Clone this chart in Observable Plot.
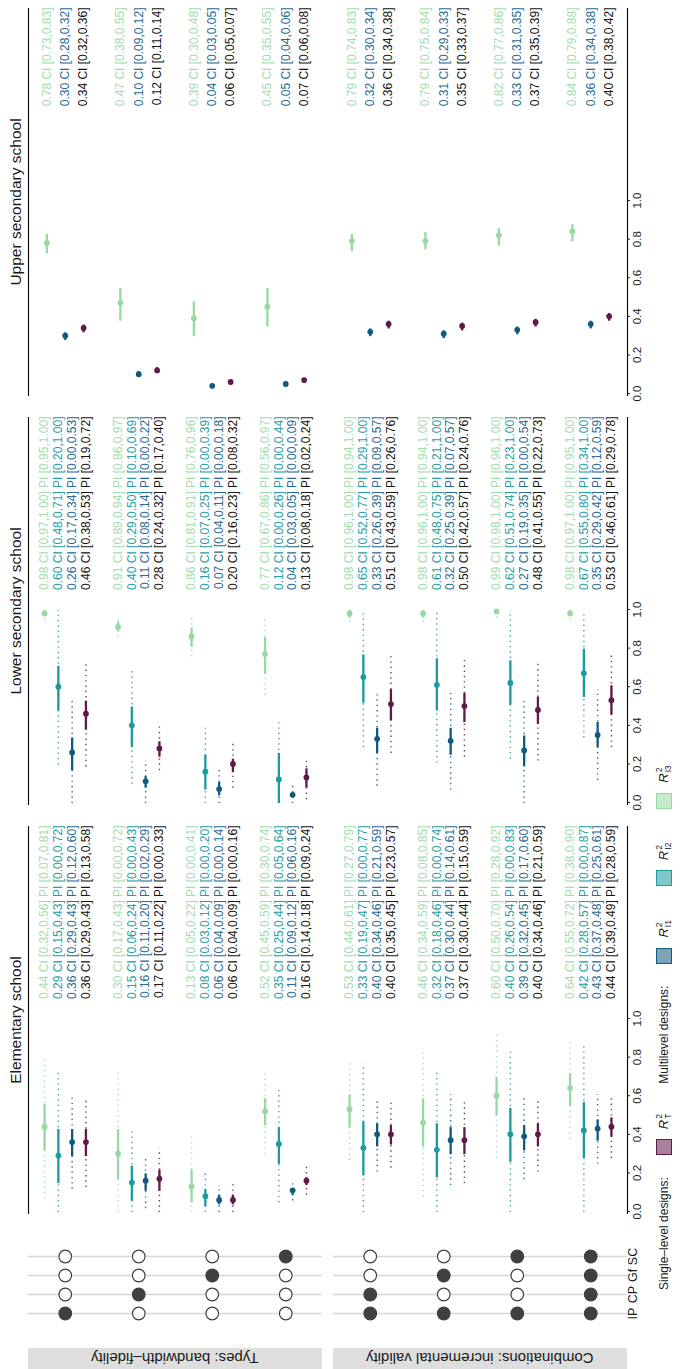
<!DOCTYPE html>
<html><head><meta charset="utf-8">
<script src="https://cdn.jsdelivr.net/npm/d3@7"></script>
<script src="https://cdn.jsdelivr.net/npm/@observablehq/plot@0.6"></script>
<style>
html,body{margin:0;padding:0;background:#fff;}
#page{position:relative;width:682px;height:1369px;overflow:hidden;background:#fff;font-family:"Liberation Sans",Arial,sans-serif;}
#land{position:absolute;left:0;top:0;width:1369px;height:682px;transform-origin:0 0;transform:translate(0px,1369px) rotate(-90deg);}
.abs{position:absolute;}
.abs svg{display:block;overflow:visible;}
.strip{background:#dedede;display:flex;align-items:center;justify-content:center;}
.strip span{writing-mode:vertical-rl;transform:rotate(180deg);font-size:15px;color:#1a1a1a;white-space:nowrap;}
.title{font-size:15.5px;color:#1a1a1a;text-align:center;white-space:nowrap;line-height:15px;}
#legend{display:flex;align-items:center;font-size:12px;color:#1a1a1a;white-space:nowrap;}
.key{width:16px;height:16px;box-sizing:border-box;border:1px solid;}
.rlab{display:inline-flex;align-items:center;}
.rlab i{font-size:13px;}
.ss{display:inline-flex;flex-direction:column;font-size:8.5px;line-height:8.5px;margin-left:1px;}
</style>
</head><body>
<div id="page"><div id="land"></div></div>
<script>
// ---------- categories ----------
const schools = ["Elementary school", "Lower secondary school", "Upper secondary school"];
const facets = ["Types: bandwidth\u2013fidelity", "Combinations: incremental validity"];
const predictors = ["IP", "CP", "Gf", "SC"];
// which predictors enter each of the 8 models (rows)
const membership = [
  [1,0,0,0],[0,1,0,0],[0,0,1,0],[0,0,0,1],
  [1,1,0,0],[1,0,1,0],[1,0,0,1],[1,1,1,1]
];
const seriesNames = ["I3", "I2", "I1", "T"];
const seriesColors = ["#97d8a3", "#1b9a9f", "#0f5a7e", "#5e1b47"];
const textColors = ["#a3ddad", "#27a0a5", "#2b6b93", "#141414"];
const tickValues = [0, 0.2, 0.4, 0.6, 0.8, 1.0];

// ---------- Elementary school ----------
const elemI3 = {est:[0.44,0.30,0.13,0.52,0.53,0.46,0.60,0.64], ciLo:[0.32,0.17,0.05,0.45,0.44,0.34,0.50,0.55], ciHi:[0.56,0.43,0.22,0.59,0.61,0.59,0.70,0.72], piLo:[0.07,0.00,0.00,0.30,0.27,0.08,0.28,0.38], piHi:[0.81,0.72,0.41,0.74,0.79,0.85,0.92,0.90]};
const elemI2 = {est:[0.29,0.15,0.08,0.35,0.33,0.32,0.40,0.42], ciLo:[0.15,0.06,0.03,0.25,0.19,0.18,0.26,0.28], ciHi:[0.43,0.24,0.12,0.44,0.47,0.46,0.54,0.57], piLo:[0.00,0.00,0.00,0.05,0.00,0.00,0.00,0.00], piHi:[0.72,0.43,0.20,0.64,0.77,0.74,0.83,0.87]};
const elemI1 = {est:[0.36,0.16,0.06,0.11,0.40,0.37,0.39,0.43], ciLo:[0.29,0.11,0.04,0.09,0.34,0.30,0.32,0.37], ciHi:[0.43,0.20,0.09,0.12,0.46,0.44,0.45,0.48], piLo:[0.12,0.02,0.00,0.06,0.21,0.14,0.17,0.25], piHi:[0.60,0.29,0.14,0.16,0.59,0.61,0.60,0.61]};
const elemT  = {est:[0.36,0.17,0.06,0.16,0.40,0.37,0.40,0.44], ciLo:[0.29,0.11,0.04,0.14,0.35,0.30,0.34,0.39], ciHi:[0.43,0.22,0.09,0.18,0.45,0.44,0.46,0.49], piLo:[0.13,0.00,0.00,0.09,0.23,0.15,0.21,0.28], piHi:[0.58,0.33,0.16,0.24,0.57,0.59,0.59,0.59]};
// ---------- Lower secondary school ----------
const lowI3 = {est:[0.98,0.91,0.86,0.77,0.98,0.98,0.99,0.98], ciLo:[0.97,0.89,0.81,0.67,0.96,0.96,0.98,0.97], ciHi:[1.00,0.94,0.91,0.86,1.00,1.00,1.00,1.00], piLo:[0.95,0.86,0.76,0.56,0.94,0.94,0.96,0.95], piHi:[1.00,0.97,0.96,0.97,1.00,1.00,1.00,1.00]};
const lowI2 = {est:[0.60,0.40,0.16,0.12,0.65,0.61,0.62,0.67], ciLo:[0.48,0.29,0.07,0.00,0.52,0.48,0.51,0.55], ciHi:[0.71,0.50,0.25,0.26,0.77,0.75,0.74,0.80], piLo:[0.20,0.10,0.00,0.00,0.29,0.21,0.23,0.34], piHi:[1.00,0.69,0.39,0.44,1.00,1.00,1.00,1.00]};
const lowI1 = {est:[0.26,0.11,0.07,0.04,0.33,0.32,0.27,0.35], ciLo:[0.17,0.08,0.04,0.03,0.26,0.25,0.19,0.29], ciHi:[0.34,0.14,0.11,0.05,0.39,0.39,0.35,0.42], piLo:[0.00,0.00,0.00,0.00,0.09,0.07,0.00,0.12], piHi:[0.53,0.22,0.18,0.09,0.57,0.57,0.54,0.59]};
const lowT  = {est:[0.46,0.28,0.20,0.13,0.51,0.50,0.48,0.53], ciLo:[0.38,0.24,0.16,0.08,0.43,0.42,0.41,0.46], ciHi:[0.53,0.32,0.23,0.18,0.59,0.57,0.55,0.61], piLo:[0.19,0.17,0.08,0.02,0.26,0.24,0.22,0.29], piHi:[0.72,0.40,0.32,0.24,0.76,0.76,0.73,0.78]};
// ---------- Upper secondary school (no prediction intervals) ----------
const uppI3 = {est:[0.78,0.47,0.39,0.45,0.79,0.79,0.82,0.84], ciLo:[0.73,0.38,0.30,0.35,0.74,0.75,0.77,0.79], ciHi:[0.83,0.55,0.48,0.55,0.83,0.84,0.86,0.88]};
const uppI1 = {est:[0.30,0.10,0.04,0.05,0.32,0.31,0.33,0.36], ciLo:[0.28,0.09,0.03,0.04,0.30,0.29,0.31,0.34], ciHi:[0.32,0.12,0.05,0.06,0.34,0.33,0.35,0.38]};
const uppT  = {est:[0.34,0.12,0.06,0.07,0.36,0.35,0.37,0.40], ciLo:[0.32,0.11,0.05,0.06,0.34,0.33,0.35,0.38], ciHi:[0.36,0.14,0.07,0.08,0.38,0.37,0.39,0.42]};

const panelSeries = [
  [["I3", elemI3], ["I2", elemI2], ["I1", elemI1], ["T", elemT]],
  [["I3", lowI3], ["I2", lowI2], ["I1", lowI1], ["T", lowT]],
  [["I3", uppI3], ["I1", uppI1], ["T", uppT]]
];

// ---------- layout (landscape, then rotated) ----------
const land = document.getElementById("land");
const panelLeft = [155, 564, 973];
const panelW = 388;
const FONT = '"Liberation Sans", Arial, sans-serif';
const fmt = d3.format(".2f");
const fyScale = {domain: facets, paddingInner: 0.0367, paddingOuter: 0, axis: null};

function place(el, left, top) {
  const d = document.createElement("div");
  d.className = "abs";
  d.style.left = left + "px"; d.style.top = top + "px";
  d.appendChild(el);
  land.appendChild(d);
  return d;
}

function buildRows(list) {
  const n = list.length, rows = [];
  list.forEach(([name, s], i) => {
    s.est.forEach((v, g) => {
      const hasPI = s.piLo !== undefined;
      rows.push({
        series: name, facet: facets[g < 4 ? 0 : 1],
        ypos: (g % 4) + (i - (n - 1) / 2) * 0.75 / n,
        est: v, ciLo: s.ciLo[g], ciHi: s.ciHi[g],
        piLo: hasPI ? s.piLo[g] : null, piHi: hasPI ? s.piHi[g] : null,
        label: fmt(v) + " CI [" + fmt(s.ciLo[g]) + "," + fmt(s.ciHi[g]) + "]" +
               (hasPI ? " PI [" + fmt(s.piLo[g]) + "," + fmt(s.piHi[g]) + "]" : "")
      });
    });
  });
  return rows;
}

panelSeries.forEach((list, p) => {
  const rows = buildRows(list);
  const hasPI = rows[0].piLo !== null;
  const marks = [
    Plot.ruleY([{facet: facets[0], y: -0.5}], {fy: "facet", y: "y", stroke: "#000", strokeWidth: 1.1}),
    Plot.ruleY([{facet: facets[1], y: 3.5}], {fy: "facet", y: "y", stroke: "#000", strokeWidth: 1.1})
  ];
  if (hasPI) marks.push(Plot.ruleY(rows, {fy: "facet", y: "ypos", x1: "piLo", x2: "piHi", stroke: "series",
    strokeWidth: 1.4, strokeDasharray: "1.4,3.9", strokeOpacity: 0.85}));
  marks.push(Plot.ruleY(rows, {fy: "facet", y: "ypos", x1: "ciLo", x2: "ciHi", stroke: "series", strokeWidth: 2.3}));
  marks.push(Plot.dot(rows, {fy: "facet", y: "ypos", x: "est", fill: "series", r: 2.9}));
  list.forEach(([name]) => {
    const k = seriesNames.indexOf(name);
    marks.push(Plot.text(rows, {filter: d => d.series === name, fy: "facet", y: "ypos", x: 2, text: "label",
      textAnchor: "end", fill: textColors[k], fontSize: 12}));
  });
  marks.push(Plot.axisX({ticks: tickValues, tickFormat: d3.format(".1f"), tickSize: 3, tickPadding: 2, label: null}));
  const chart = Plot.plot({
    width: panelW, height: 650, marginTop: 28, marginBottom: 23, marginLeft: 0, marginRight: 0,
    x: {domain: [-0.01, 2], label: null},
    y: {domain: [3.5, -0.5], axis: null},
    fy: fyScale,
    color: {domain: seriesNames, range: seriesColors},
    style: {fontFamily: FONT, fontSize: "11.5px", color: "#1a1a1a", background: "transparent", overflow: "visible"},
    marks
  });
  place(chart, panelLeft[p], 0);
  // column title
  const t = document.createElement("div");
  t.className = "title"; t.style.width = panelW + "px"; t.textContent = schools[p];
  place(t, panelLeft[p], 8);
});

// ---------- predictor matrix ----------
const cells = [];
membership.forEach((m, g) => m.forEach((on, j) => cells.push({pred: predictors[j], g: g % 4, facet: facets[g < 4 ? 0 : 1], on})));
const matrix = Plot.plot({
  width: 105, height: 650, marginTop: 28, marginBottom: 23, marginLeft: 23.7, marginRight: 22.2,
  x: {type: "point", domain: predictors, padding: 0, label: null},
  y: {domain: [3.5, -0.5], axis: null},
  fy: fyScale,
  style: {fontFamily: FONT, fontSize: "12.5px", color: "#1a1a1a", background: "transparent", overflow: "visible"},
  marks: [
    Plot.ruleX(predictors, {x: d => d, stroke: "#d6d6d6", strokeWidth: 1.6}),
    Plot.dot(cells, {filter: d => !d.on, fy: "facet", x: "pred", y: "g", r: 6.3, fill: "white", stroke: "#404040", strokeWidth: 1.2}),
    Plot.dot(cells, {filter: d => d.on, fy: "facet", x: "pred", y: "g", r: 6.3, fill: "#404040", stroke: "#404040", strokeWidth: 1.2}),
    Plot.axisX({tickSize: 0, tickPadding: 1, label: null})
  ]
});
place(matrix, 30, 0);

// ---------- row strips ----------
[[28, facets[0]], [333, facets[1]]].forEach(([top, label]) => {
  const s = document.createElement("div");
  s.className = "strip"; s.style.width = "21px"; s.style.height = "294px";
  const sp = document.createElement("span"); sp.textContent = label; s.appendChild(sp);
  place(s, 0, top);
});

// ---------- legend ----------
const legendGroups = [
  {title: "Single\u2013level designs:", items: ["T"]},
  {title: "Multilevel designs:", items: ["I1", "I2", "I3"]}
];
const legend = document.createElement("div");
legend.id = "legend";
legendGroups.forEach((grp, gi) => {
  const tt = document.createElement("span");
  tt.textContent = grp.title;
  if (gi > 0) tt.style.marginLeft = "30px";
  legend.appendChild(tt);
  grp.items.forEach((name, ii) => {
    const k = seriesNames.indexOf(name);
    const key = document.createElement("div");
    key.className = "key";
    key.style.marginLeft = ii === 0 ? "22px" : "34px";
    key.style.borderColor = seriesColors[k];
    const c = d3.color(seriesColors[k]); c.opacity = 0.55;
    key.style.background = c.formatRgb();
    legend.appendChild(key);
    const lab = document.createElement("span");
    lab.className = "rlab"; lab.style.marginLeft = "10px";
    lab.innerHTML = '<i>R</i><span class="ss"><span>2</span><span>' + name + '</span></span>';
    legend.appendChild(lab);
  });
});
place(legend, 79, 655);
</script>
</body></html>
